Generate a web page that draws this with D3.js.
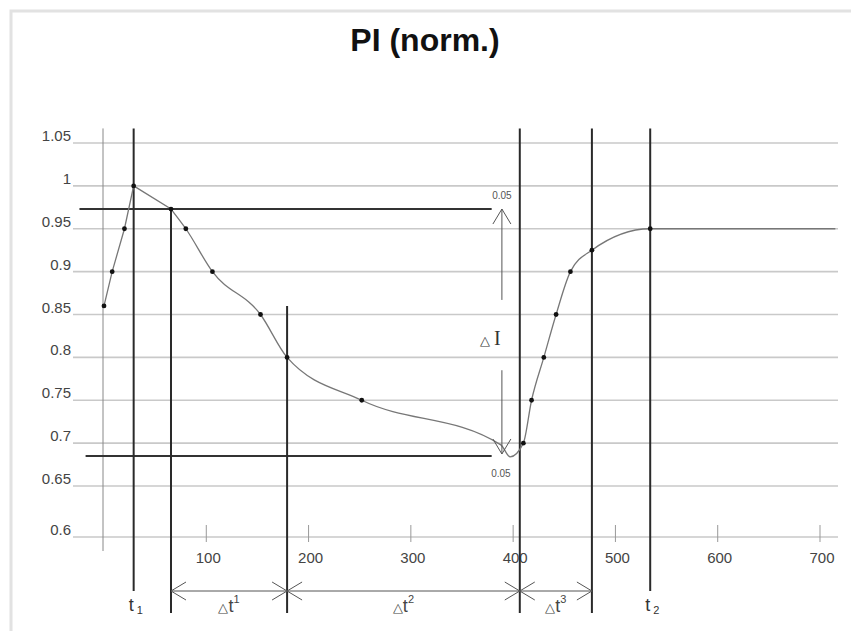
<!DOCTYPE html>
<html>
<head>
<meta charset="utf-8">
<script src="https://cdn.jsdelivr.net/npm/d3@7"></script>
<style>
  html, body { margin: 0; padding: 0; background: #fff; }
  svg { display: block; font-family: "Liberation Sans", Arial, sans-serif; }
</style>
</head>
<body>
<svg id="chart" width="851" height="631"></svg>
<script>
// data
const timeValues = [0, 8, 20, 29, 65.5, 80, 106, 153, 179, 252, 388, 397, 410, 418, 430, 442, 456, 477, 534, 715];
const piValues = [0.86, 0.9, 0.95, 1.0, 0.973, 0.95, 0.9, 0.85, 0.8, 0.75, 0.698, 0.684, 0.7, 0.75, 0.8, 0.85, 0.9, 0.925, 0.95, 0.95];
const dotted = [1, 1, 1, 1, 1, 1, 1, 1, 1, 1, 0, 0, 1, 1, 1, 1, 1, 1, 1, 0];
const straightUntil = 4; // rise and first drop are drawn as straight segments

const yTicks = [0.6, 0.65, 0.7, 0.75, 0.8, 0.85, 0.9, 0.95, 1, 1.05];
const yTickLabels = ["0.6", "0.65", "0.7", "0.75", "0.8", "0.85", "0.9", "0.95", "1", "1.05"];
const xTicks = [100, 200, 300, 400, 500, 600, 700];
const xTickLabels = ["100", "200", "300", "400", "500", "600", "700"];

// vertical marker lines (time) and where they start (PI value), "long" ones reach below the Δt row
const markerTimes = [29, 65.5, 179, 406.5, 477, 534];
const markerTops = [1.067, 0.973, 0.86, 1.067, 1.067, 1.067];
const markerLong = [0, 1, 1, 1, 1, 0];

// thresholds for ΔI
const upperLevel = 0.973;
const lowerLevel = 0.685;
const levelStart = [-24, -18];
const levelEnd = 379;
const deltaITime = 389;
const deltaILabel = "0.05";

// Δt intervals
const intervalEdges = [65.5, 179, 406.5, 477];
const intervalNames = ["1", "2", "3"];
const tNames = [{ t: 29, sub: "1" }, { t: 534, sub: "2" }];

const svg = d3.select("#chart");

const x = d3.scaleLinear().domain([0, 700]).range([104, 820]);
const y = d3.scaleLinear().domain([0.6, 0.65, 1.05]).range([537, 486, 143]);

// frame
svg.append("path")
  .attr("d", "M11,640 V11 H860")
  .attr("fill", "none")
  .attr("stroke", "#e2e2e2")
  .attr("stroke-width", 3);

svg.append("text")
  .attr("x", 425)
  .attr("y", 51)
  .attr("text-anchor", "middle")
  .style("font-size", "32px")
  .style("font-weight", "bold")
  .attr("fill", "#111")
  .text("PI (norm.)");

// grid
const grid = svg.append("g");
grid.selectAll("line")
  .data(yTicks)
  .enter()
  .append("line")
  .attr("x1", 73)
  .attr("x2", 838)
  .attr("y1", (d) => y(d))
  .attr("y2", (d) => y(d))
  .attr("stroke", "#c9c9c9")
  .attr("stroke-width", 1.6);

grid.selectAll("text")
  .data(yTicks)
  .enter()
  .append("text")
  .attr("x", 71)
  .attr("y", (d) => y(d) - 2)
  .attr("text-anchor", "end")
  .style("font-size", "15px")
  .attr("fill", "#444")
  .text((d, i) => yTickLabels[i]);

// x axis ticks
const xg = svg.append("g");
xg.selectAll("line")
  .data(xTicks)
  .enter()
  .append("line")
  .attr("x1", (d) => x(d))
  .attr("x2", (d) => x(d))
  .attr("y1", y(0.6) - 12)
  .attr("y2", y(0.6) + 5)
  .attr("stroke", "#999")
  .attr("stroke-width", 1);

xg.selectAll("text")
  .data(xTicks)
  .enter()
  .append("text")
  .attr("x", (d) => x(d) + 2)
  .attr("y", y(0.6) + 26)
  .attr("text-anchor", "middle")
  .style("font-size", "15px")
  .attr("fill", "#444")
  .text((d, i) => xTickLabels[i]);

// thin y axis line
svg.append("line")
  .attr("x1", x(0) - 1)
  .attr("x2", x(0) - 1)
  .attr("y1", y(1.067))
  .attr("y2", y(0.6) + 14)
  .attr("stroke", "#888")
  .attr("stroke-width", 1);

// threshold lines
const levels = [upperLevel, lowerLevel];
svg.selectAll(".level")
  .data(levels)
  .enter()
  .append("line")
  .attr("class", "level")
  .attr("x1", (d, i) => x(levelStart[i]))
  .attr("x2", x(levelEnd))
  .attr("y1", (d) => y(d))
  .attr("y2", (d) => y(d))
  .attr("stroke", "#333")
  .attr("stroke-width", 2);

// marker verticals
const rowY = y(0.6) + 54;
svg.selectAll(".marker")
  .data(markerTimes)
  .enter()
  .append("line")
  .attr("class", "marker")
  .attr("x1", (d) => x(d))
  .attr("x2", (d) => x(d))
  .attr("y1", (d, i) => y(markerTops[i]))
  .attr("y2", (d, i) => markerLong[i] ? rowY + 22 : rowY)
  .attr("stroke", "#2a2a2a")
  .attr("stroke-width", 2);

// curve
const points = timeValues.map((t, i) => ({ t: t, v: piValues[i], dot: dotted[i] }));
const straight = d3.line()
  .x((d) => x(d.t))
  .y((d) => y(d.v));
const smooth = d3.line()
  .x((d) => x(d.t))
  .y((d) => y(d.v))
  .curve(d3.curveMonotoneX);

svg.append("path")
  .attr("d", straight(points.slice(0, straightUntil + 1)) + smooth(points.slice(straightUntil)).replace("M", "L"))
  .attr("fill", "none")
  .attr("stroke", "#777")
  .attr("stroke-width", 1.3);

svg.selectAll(".dot")
  .data(points.filter((d) => d.dot))
  .enter()
  .append("circle")
  .attr("class", "dot")
  .attr("cx", (d) => x(d.t))
  .attr("cy", (d) => y(d.v))
  .attr("r", 2.4)
  .attr("fill", "#111");

// arrow head helper: open V with tip at (tx, ty) pointing in direction (dx, dy)
function head(tx, ty, dx, dy) {
  const len = 15, half = 9;
  const bx = tx - dx * len, by = ty - dy * len;
  const px = -dy * half, py = dx * half;
  return "M" + (bx + px) + "," + (by + py) + " L" + tx + "," + ty + " L" + (bx - px) + "," + (by - py);
}

const ann = svg.append("g").attr("fill", "none").attr("stroke", "#555").attr("stroke-width", 1);

// ΔI arrows
const ax = x(deltaITime);
ann.append("line").attr("x1", ax).attr("x2", ax).attr("y1", y(0.867)).attr("y2", y(upperLevel));
ann.append("line").attr("x1", ax).attr("x2", ax).attr("y1", y(0.785)).attr("y2", y(lowerLevel) - 2);
ann.append("path").attr("d", head(ax, y(upperLevel), 0, -1));
ann.append("path").attr("d", head(ax, y(lowerLevel) - 2, 0, 1));

svg.append("text")
  .attr("x", ax)
  .attr("y", y(upperLevel) - 10)
  .attr("text-anchor", "middle")
  .style("font-size", "10px")
  .attr("fill", "#555")
  .text(deltaILabel);
svg.append("text")
  .attr("x", ax - 1)
  .attr("y", y(lowerLevel) + 21)
  .attr("text-anchor", "middle")
  .style("font-size", "10px")
  .attr("fill", "#555")
  .text(deltaILabel);

const dI = svg.append("text")
  .attr("x", ax - 22)
  .attr("y", y(0.8) - 12)
  .attr("fill", "#333");
dI.append("tspan").attr("fill", "#333").style("font-size", "13px").text("△");
dI.append("tspan").attr("fill", "#333").attr("dx", 4).style("font-size", "20px").style("font-family", "'Liberation Serif', serif").text("I");

// Δt row
ann.append("line")
  .attr("x1", x(intervalEdges[0]))
  .attr("x2", x(intervalEdges[intervalEdges.length - 1]))
  .attr("y1", rowY)
  .attr("y2", rowY);

intervalEdges.forEach((e, i) => {
  if (i > 0) ann.append("path").attr("d", head(x(e), rowY, 1, 0));
  if (i < intervalEdges.length - 1) ann.append("path").attr("d", head(x(e), rowY, -1, 0));
});

intervalNames.forEach((n, i) => {
  const cx = (x(intervalEdges[i]) + x(intervalEdges[i + 1])) / 2;
  const t = svg.append("text")
    .attr("x", cx)
    .attr("y", rowY + 21)
    .attr("text-anchor", "middle")
    .attr("fill", "#444");
  t.append("tspan").attr("fill", "#444").style("font-size", "13px").text("△");
  t.append("tspan").attr("fill", "#444").style("font-size", "18px").text("t");
  t.append("tspan").attr("fill", "#444").attr("dy", -9).style("font-size", "11px").text(n);
});

tNames.forEach((d) => {
  const t = svg.append("text")
    .attr("x", x(d.t) - 5)
    .attr("y", rowY + 20)
    .attr("fill", "#333");
  t.append("tspan").attr("fill", "#333").style("font-size", "18px").text("t");
  t.append("tspan").attr("fill", "#333").attr("dx", 3).attr("dy", 3).style("font-size", "11px").text(d.sub);
});
</script>
</body>
</html>
